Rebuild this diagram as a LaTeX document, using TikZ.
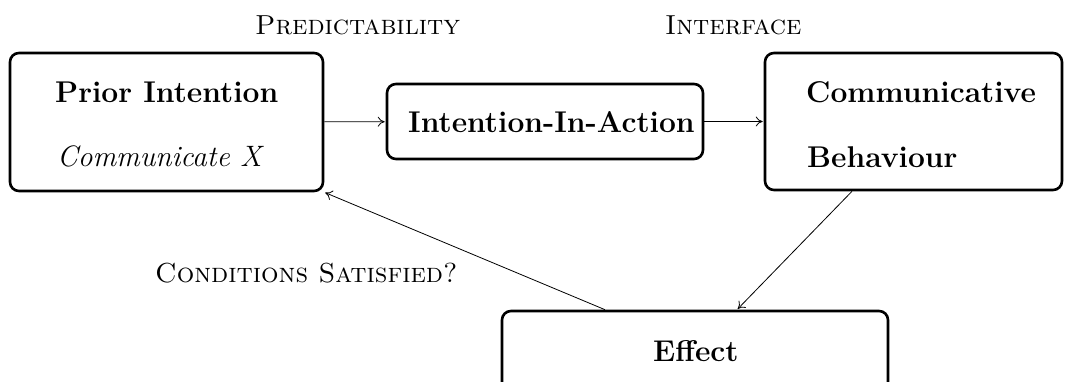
\documentclass[tikz,border=0pt]{standalone}
\usetikzlibrary{arrows.meta}
\tikzset{
  stepbox/.style={draw, rectangle, rounded corners=9pt, line width=2.6pt, inner sep=0pt},
  boldtxt/.style={inner sep=0pt, anchor=base west, font=\fontsize{30}{36}\selectfont\bfseries},
  itxt/.style={inner sep=0pt, anchor=base west, font=\fontsize{29.5}{35}\selectfont\itshape},
  sctxt/.style={inner sep=0pt, anchor=base west, font=\fontsize{27.5}{33}\selectfont\scshape},
  conn/.style={line width=0.8pt, -{To[length=7pt,width=10pt]}, shorten >=1pt}
}
\begin{document}
\begin{tikzpicture}[x=1pt,y=-1pt]
\useasboundingbox (0,0) rectangle (1072,382);
\node[stepbox, minimum width=313pt, minimum height=138pt] (b1) at (166.5,122) {};
\node[stepbox, minimum width=316pt, minimum height=75pt] (b2) at (545,121.5) {};
\node[stepbox, minimum width=297pt, minimum height=137pt] (b3) at (913.5,121.5) {};
\node[stepbox, minimum width=386pt, minimum height=82pt] (b4) at (695,352) {};
\node[boldtxt] (t1) at (55,103) {Prior Intention};
\node[itxt] (t2) at (57,167) {Communicate X};
\node[boldtxt] (t3) at (408,133) {Intention-In-Action};
\node[boldtxt] (t4) at (806,103) {Communicative};
\node[boldtxt] (t5) at (807,168) {Behaviour};
\node[boldtxt] (t6) at (653,362) {Effect};
\node[sctxt] (l1) at (255,35) {Predictability};
\node[sctxt] (l2) at (665,35) {Interface};
\node[sctxt] (l3) at (155,283) {Conditions Satisfied?};
\draw[conn] (b1) -- (b2);
\draw[conn] (b2) -- (b3);
\draw[conn] ([xshift=-61.5pt]b3.south) -- ([xshift=42pt]b4.north);
\draw[conn] ([xshift=-90pt]b4.north) -- (b1.south east);
\end{tikzpicture}
\end{document}
